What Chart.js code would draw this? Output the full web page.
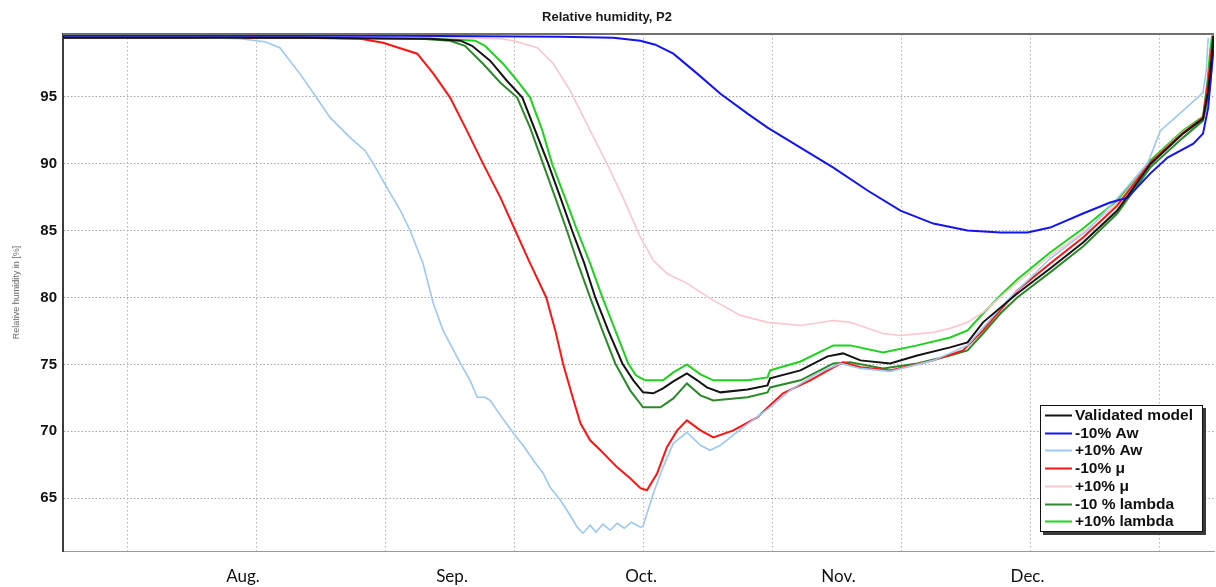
<!DOCTYPE html>
<html>
<head>
<meta charset="utf-8">
<script src="https://cdn.jsdelivr.net/npm/chart.js@4.4.1/dist/chart.umd.min.js"></script>
<style>
html,body{margin:0;padding:0;background:#fff;}
canvas{display:block;}
</style>
</head>
<body>
<canvas id="c" width="1216" height="587"></canvas>
<script>
// ---- axes ----
const xMin = 0, xMax = 178.4;          // days from start of record
const yMin = 61.06, yMax = 99.68;      // relative humidity [%]
const gridDays = [10, 30, 50, 70, 90, 110, 130, 150, 170];
const monthPos = [27.9, 60.3, 89.6, 120.2, 149.5];
const monthLabels = ['Aug.', 'Sep.', 'Oct.', 'Nov.', 'Dec.'];
const yTicks = [65, 70, 75, 80, 85, 90, 95];

// ---- series ----
const validatedDays = [0,36.7,56.9,61.6,63.4,66.2,68.8,71.2,73.2,75.2,77.1,78.9,80.8,82.5,84.5,86.7,88.4,89.9,91.5,93.0,94.6,96.7,98.3,99.8,101.9,106.1,109.2,109.6,114.3,118.5,120.9,123.6,128.2,132.4,137.5,140.2,142.6,147.9,153.0,158.1,163.4,168.5,173.6,176.7,177.5,178.0,178.3];
const validatedRH   = [99.40,99.40,99.33,99.18,98.80,97.69,96.19,94.93,92.46,90.00,87.46,85.00,82.54,80.00,77.54,75.07,73.81,72.91,72.84,73.21,73.73,74.33,73.81,73.28,72.91,73.13,73.43,73.96,74.55,75.60,75.82,75.30,75.07,75.67,76.27,76.64,78.14,80.30,82.16,84.10,86.49,89.93,92.24,93.36,95.45,97.69,99.55];

const awMinusDays = [0,52.3,77.1,85.3,89.5,91.8,94.6,98.3,101.9,106.1,109.2,114.3,119.4,124.7,129.8,134.9,140.2,145.3,149.5,153.0,158.1,162.3,165.0,168.5,171.2,175.2,176.7,177.5,178.3,178.45];
const awMinusRH   = [99.55,99.55,99.48,99.40,99.18,98.88,98.21,96.72,95.22,93.73,92.69,91.19,89.70,87.99,86.49,85.52,85.00,84.85,84.85,85.22,86.27,87.09,87.46,89.25,90.45,91.49,92.24,94.18,98.43,99.48];

const awPlusDays = [0,21.2,27.4,31.3,33.6,36.7,39.1,41.4,44.5,46.8,48.1,50.2,52.3,53.8,55.8,57.4,58.9,61.6,63.1,64.2,65.4,66.2,67.8,69.8,71.3,72.9,74.4,75.5,77.1,78.6,79.7,80.6,81.7,82.6,83.7,84.8,85.9,87.0,88.1,89.5,89.9,91.5,93.0,94.6,96.7,98.8,100.3,101.9,105.4,109.6,112.7,116.9,120.5,123.6,128.2,134.9,140.2,142.6,146.8,153.0,158.8,163.4,168.1,170.1,173.6,176.7,177.2,177.5];
const awPlusRH   = [99.40,99.40,99.33,99.10,98.66,96.72,95.07,93.43,91.94,90.97,90.00,88.21,86.49,85.00,82.54,79.55,77.54,75.07,73.81,72.54,72.54,72.31,71.19,69.85,68.96,67.84,66.87,65.82,64.85,63.73,62.84,62.39,62.99,62.46,63.07,62.61,63.13,62.76,63.21,62.84,62.91,65.37,67.31,69.10,69.93,68.96,68.58,68.96,70.30,71.79,73.06,74.33,75.07,74.70,74.48,75.30,76.42,77.76,80.00,82.91,85.00,87.39,90.00,92.46,93.96,95.30,96.94,99.40];

const muMinusDays = [0,36.7,46.1,49.6,54.9,57.4,60.0,62.6,65.1,67.8,70.1,72.4,74.9,76.3,77.5,78.9,80.2,81.7,83.3,85.9,87.9,89.5,90.5,92.1,93.6,95.2,96.7,98.8,100.8,103.9,107.6,109.6,111.6,115.8,119.4,120.9,123.6,128.2,134.9,139.5,142.6,147.9,153.0,158.1,163.4,168.5,173.6,176.7,177.5,178.0,178.3];
const muMinusRH   = [99.40,99.40,99.33,99.03,98.21,96.72,94.93,92.46,90.00,87.46,85.00,82.54,80.00,77.54,75.07,72.69,70.60,69.33,68.58,67.31,66.49,65.75,65.60,66.87,68.81,70.07,70.82,70.07,69.55,70.07,71.04,71.94,72.84,73.81,74.78,75.15,74.78,74.55,75.30,76.04,77.54,80.52,82.54,84.48,86.86,90.07,92.31,93.43,96.19,98.43,99.55];

const muPlusDays = [0,60.0,67.8,69.8,73.5,76.0,78.6,81.7,84.3,86.8,89.5,91.5,93.6,96.7,100.8,105.0,109.2,114.3,119.4,122.0,127.1,129.8,134.9,137.5,140.2,142.6,147.9,153.0,158.1,163.4,168.5,173.6,176.7,177.5,178.0,178.3];
const muPlusRH   = [99.40,99.40,99.33,99.18,98.66,97.46,95.45,92.46,90.00,87.46,84.48,82.76,81.79,81.05,79.78,78.66,78.14,77.91,78.28,78.14,77.31,77.16,77.39,77.69,78.14,78.88,81.12,83.13,84.85,87.01,90.07,92.39,93.43,96.19,98.43,99.48];

const lambdaMinusDays = [0,36.7,55.4,60.0,62.3,65.1,67.8,70.4,72.4,74.4,76.3,78.1,79.8,81.7,83.6,85.6,87.9,89.9,92.6,94.6,96.7,98.8,100.8,106.1,109.2,109.6,114.3,119.4,122.0,127.1,132.4,137.5,140.2,142.6,145.3,147.9,153.0,158.1,163.4,168.5,173.6,176.7,177.7,178.1,178.4];
const lambdaMinusRH   = [99.40,99.40,99.33,99.18,98.80,97.46,96.04,94.93,92.69,90.00,87.46,85.00,82.54,80.00,77.54,75.07,73.06,71.79,71.79,72.46,73.58,72.69,72.31,72.54,72.91,73.28,73.81,75.07,75.15,74.70,75.07,75.67,76.04,77.31,78.80,80.00,81.87,83.81,86.27,89.70,91.94,93.21,95.45,97.69,99.55];

const lambdaPlusDays = [0,36.7,58.5,63.9,65.4,68.2,70.4,72.4,74.3,75.8,77.8,79.7,81.7,83.6,85.6,87.6,88.8,90.2,93.0,94.6,96.7,98.8,100.8,106.1,109.2,109.6,114.3,119.4,122.0,127.1,132.4,137.5,140.2,142.6,145.3,147.9,153.0,158.1,163.4,168.5,173.6,176.7,177.4,177.8,178.1];
const lambdaPlusRH   = [99.40,99.40,99.33,99.18,98.80,97.46,96.19,94.93,92.46,90.00,87.46,85.00,82.54,80.00,77.54,75.07,74.18,73.81,73.81,74.40,75.00,74.25,73.81,73.81,74.03,74.55,75.22,76.42,76.42,75.89,76.42,77.01,77.54,78.80,80.15,81.34,83.36,85.15,87.24,90.22,92.46,93.51,96.19,98.43,99.55];

const zip = (xs, ys) => xs.map((x, i) => ({ x: x, y: ys[i] }));

function series(label, xs, ys, color, width) {
  return {
    label: label,
    data: zip(xs, ys),
    borderColor: color,
    backgroundColor: color,
    borderWidth: width,
    pointRadius: 0,
    tension: 0,
    fill: false
  };
}

const datasets = [
  series('Validated model', validatedDays, validatedRH, '#141414', 2),
  series('-10% Aw', awMinusDays, awMinusRH, '#1414f0', 2),
  series('+10% Aw', awPlusDays, awPlusRH, '#9cc8f2', 1.6),
  series('-10% \u03bc', muMinusDays, muMinusRH, '#ff1414', 2),
  series('+10% \u03bc', muPlusDays, muPlusRH, '#fac6cf', 1.6),
  series('-10 % lambda', lambdaMinusDays, lambdaMinusRH, '#2a8a2a', 2),
  series('+10% lambda', lambdaPlusDays, lambdaPlusRH, '#1ed21e', 2)
];

const frame = {
  id: 'frame',
  afterDatasetsDraw(chart) {
    const { ctx, chartArea: a } = chart;
    ctx.save();
    ctx.strokeStyle = '#707070';
    ctx.lineWidth = 2;
    ctx.beginPath();
    ctx.moveTo(a.left, a.top);
    ctx.lineTo(a.right, a.top);
    ctx.stroke();
    ctx.restore();
  }
};

const legendBox = {
  id: 'legendBox',
  afterDatasetsDraw(chart) {
    const { ctx, chartArea: a } = chart;
    const w = 163, h = 127;
    const x = a.right - 11 - w, y = a.bottom - 19 - h;
    ctx.save();
    ctx.fillStyle = '#3a3a3a';
    ctx.fillRect(x + 3, y + 3, w, h);
    ctx.fillStyle = '#ffffff';
    ctx.fillRect(x, y, w, h);
    ctx.strokeStyle = '#111';
    ctx.lineWidth = 1;
    ctx.strokeRect(x + 0.5, y + 0.5, w - 1, h - 1);
    ctx.font = 'bold 15.5px "Liberation Sans", Arial, sans-serif';
    ctx.textBaseline = 'middle';
    chart.data.datasets.forEach((ds, i) => {
      const cy = Math.round(y + 10 + i * 17.7) + 0.5;
      ctx.strokeStyle = ds.borderColor;
      ctx.lineWidth = 2;
      ctx.beginPath();
      ctx.moveTo(x + 5, cy);
      ctx.lineTo(x + 32, cy);
      ctx.stroke();
      ctx.fillStyle = '#111';
      ctx.fillText(ds.label, x + 35, cy + 0.5);
    });
    ctx.restore();
  }
};

new Chart(document.getElementById('c'), {
  type: 'line',
  data: { datasets: datasets },
  plugins: [frame, legendBox],
  options: {
    responsive: false,
    animation: false,
    layout: { padding: { left: 0, right: 2, top: 0, bottom: 0 } },
    plugins: {
      legend: { display: false },
      tooltip: { enabled: false },
      title: {
        display: true,
        text: 'Relative humidity, P2',
        color: '#1a1a1a',
        font: { family: '"Liberation Sans", Arial, sans-serif', size: 13, weight: 'bold' },
        padding: { top: 9.2, bottom: 9.2 }
      }
    },
    scales: {
      x: {
        type: 'linear',
        min: xMin,
        max: xMax,
        afterBuildTicks: (axis) => {
          axis.ticks = gridDays.concat(monthPos).sort((p, q) => p - q).map(v => ({ value: v }));
        },
        afterFit: (axis) => { axis.height = 36; },
        grid: {
          drawTicks: false,
          lineWidth: 1,
          color: (c) => (c.tick && monthPos.includes(c.tick.value)) ? 'rgba(0,0,0,0)' : '#b2b2b2'
        },
        border: { display: true, color: '#9a9a9a', width: 1, dash: [1.5, 2.5] },
        ticks: {
          autoSkip: false,
          maxRotation: 0,
          minRotation: 0,
          padding: 15,
          color: '#111',
          font: { family: 'Lato, "Open Sans", sans-serif', size: 17 },
          callback: (value) => {
            const i = monthPos.indexOf(value);
            return i >= 0 ? monthLabels[i] : '';
          }
        }
      },
      y: {
        type: 'linear',
        min: yMin,
        max: yMax,
        afterBuildTicks: (axis) => { axis.ticks = yTicks.map(v => ({ value: v })); },
        afterFit: (axis) => { axis.width = 63; },
        grid: { drawTicks: false, lineWidth: 1, color: '#a6a6a6' },
        border: { display: true, color: '#3c3c3c', width: 2, dash: [1.5, 2] },
        ticks: {
          padding: 6,
          color: '#111',
          font: { family: '"Liberation Sans", Arial, sans-serif', size: 15, weight: 'bold' }
        },
        title: {
          display: true,
          text: 'Relative humidity in [%]',
          color: '#6a6a6a',
          font: { family: '"Liberation Sans", Arial, sans-serif', size: 9 },
          padding: { top: 11, bottom: 4 }
        }
      }
    }
  }
});
</script>
</body>
</html>
